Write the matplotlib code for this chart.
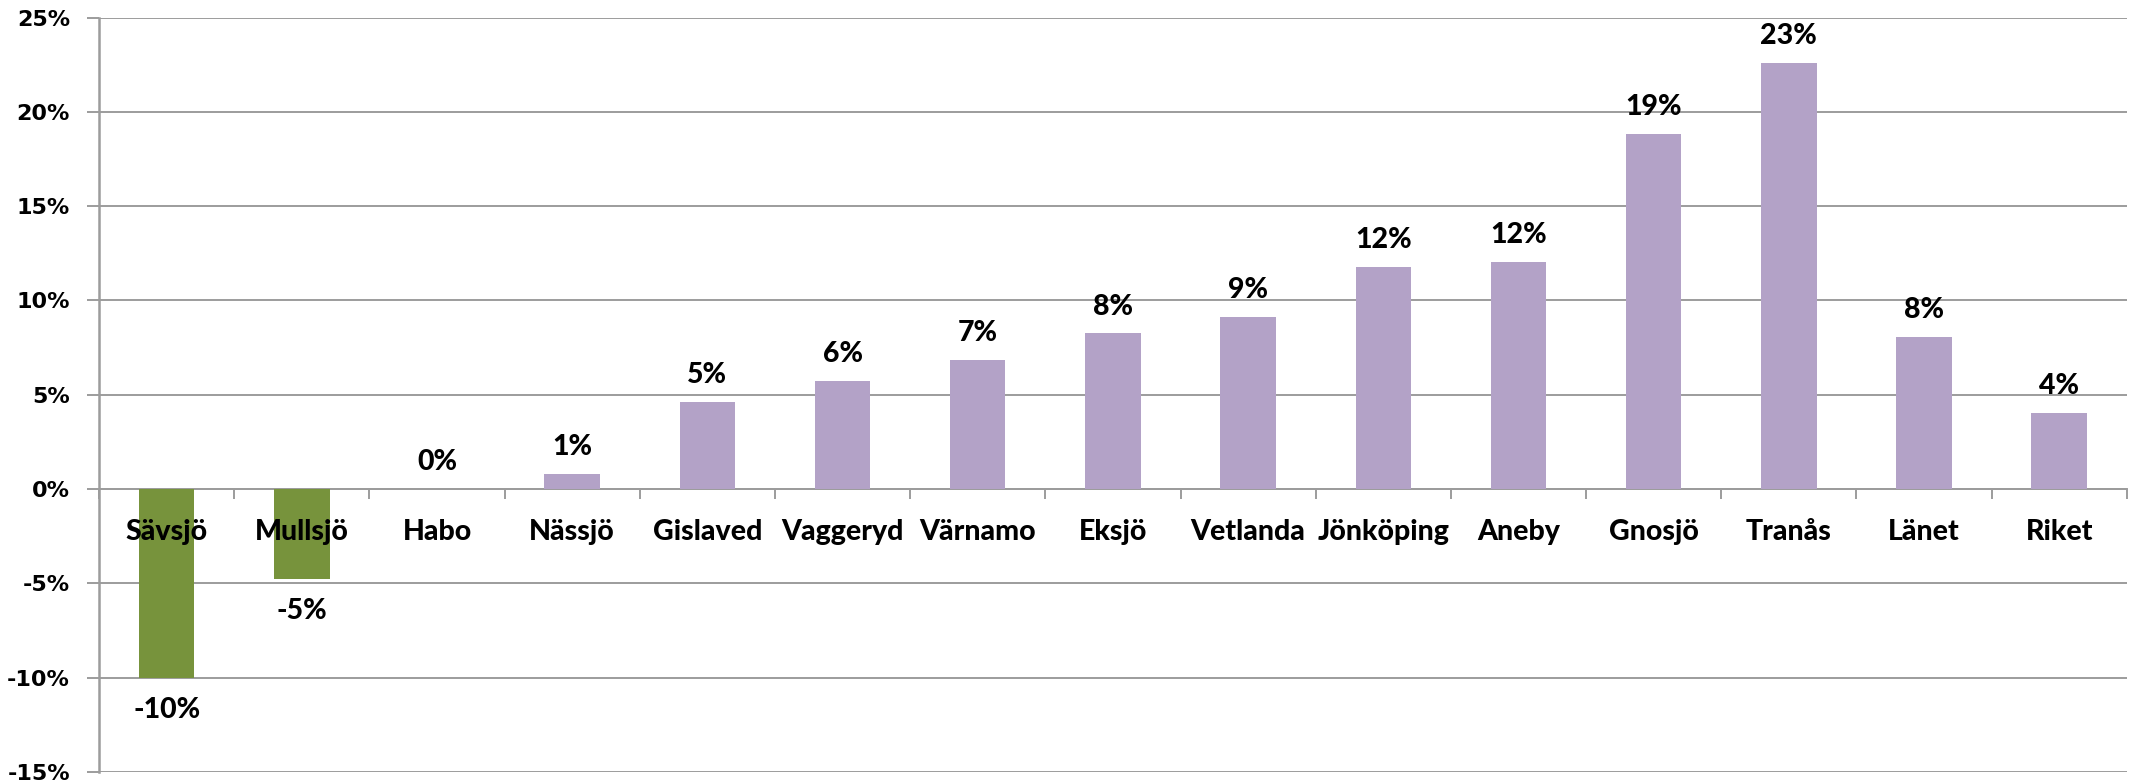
import matplotlib.pyplot as plt
import matplotlib.transforms as mtransforms
import numpy as np

# Data (percent change)
kommuner = ["Sävsjö", "Mullsjö", "Habo", "Nässjö", "Gislaved", "Vaggeryd", "Värnamo",
            "Eksjö", "Vetlanda", "Jönköping", "Aneby", "Gnosjö", "Tranås", "Länet", "Riket"]
forandring = [-10.0, -4.75, 0.0, 0.8, 4.6, 5.75, 6.85, 8.25, 9.15, 11.8, 12.05, 18.85, 22.6, 8.05, 4.05]
etiketter = ["-10%", "-5%", "0%", "1%", "5%", "6%", "7%", "8%", "9%", "12%", "12%", "19%", "23%", "8%", "4%"]
y_ticks = [-15, -10, -5, 0, 5, 10, 15, 20, 25]

GREEN = "#77933C"
PURPLE = "#B3A2C7"
GRID = "#9C9C9C"
LABEL_FONT = ["Lato", "DejaVu Sans"]

fig = plt.figure(figsize=(21.31, 7.82), dpi=100)
ax = fig.add_axes([0.0465, 0.0128, 0.9515, 0.9647])

x = np.arange(len(kommuner))
colors = [GREEN if v < 0 else PURPLE for v in forandring]
ax.bar(x, forandring, width=0.41, color=colors, zorder=3)

# Data labels
for xi, v, lab in zip(x, forandring, etiketter):
    if v < 0:
        ax.annotate(lab, (xi, v), xytext=(0, -14), textcoords="offset points",
                    ha="center", va="top", fontsize=20.5, fontweight="black", family=LABEL_FONT)
    else:
        ax.annotate(lab, (xi, v), xytext=(0, 10), textcoords="offset points",
                    ha="center", va="bottom", fontsize=20.5, fontweight="black", family=LABEL_FONT)

# Category labels just under the zero line, drawn on top of the bars
offset = mtransforms.ScaledTranslation(0, -31 / 72, fig.dpi_scale_trans)
for xi, name in zip(x, kommuner):
    ax.text(xi, 0, name, transform=ax.transData + offset, ha="center", va="center",
            fontsize=20.5, fontweight="black", family=LABEL_FONT, zorder=6)

ax.set_xlim(-0.5, len(kommuner) - 0.5)
ax.set_ylim(-15, 25)
ax.set_yticks(y_ticks)
ax.set_yticklabels([f"{t}%" for t in y_ticks], fontsize=16, fontweight="bold")
ax.yaxis.grid(True, color=GRID, linewidth=1.4, zorder=0)

# x axis sits on the zero line, ticks between categories
ax.spines["bottom"].set_position(("data", 0))
ax.spines["bottom"].set_color(GRID)
ax.spines["bottom"].set_linewidth(1.4)
ax.spines["left"].set_color(GRID)
ax.spines["left"].set_linewidth(1.8)
ax.spines["top"].set_visible(False)
ax.spines["right"].set_visible(False)

ax.set_xticks(np.arange(len(kommuner) + 1) - 0.5)
ax.set_xticklabels([])
ax.tick_params(axis="x", direction="out", length=7, width=1.4, color=GRID)
ax.tick_params(axis="y", direction="out", length=9, width=1.4, color=GRID, pad=12)

fig.savefig("out.png", dpi=100)
